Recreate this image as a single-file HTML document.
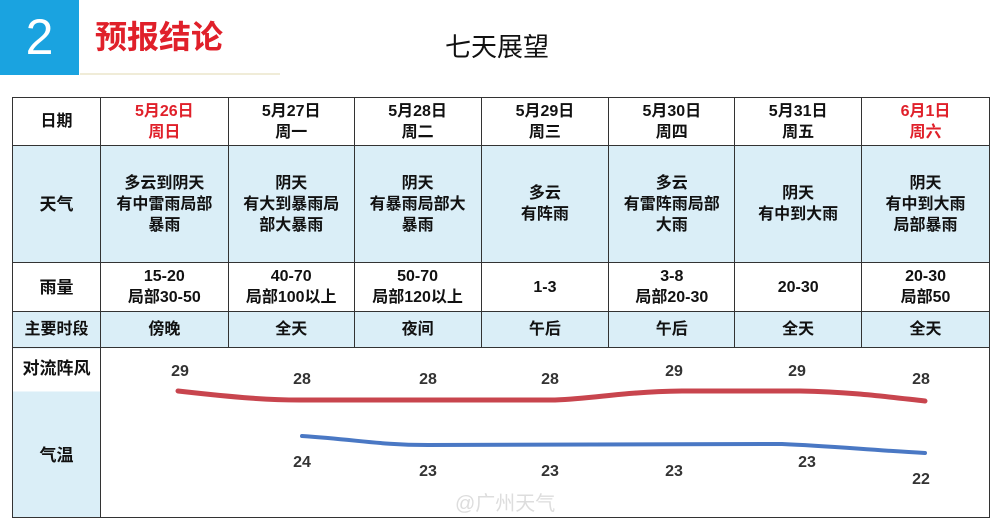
<!DOCTYPE html>
<html><head><meta charset="utf-8"><style>
body{margin:0;width:1000px;height:528px;background:#fff;position:relative;overflow:hidden;font-family:"Liberation Sans","Noto Sans CJK SC",sans-serif}
.a{position:absolute}
table{position:absolute;left:12px;top:97px;border-collapse:collapse;width:978px}
td{border:1.5px solid #333;text-align:center;font-weight:bold;font-size:16px;line-height:21px;padding:0;color:#111}
.b{background:#daeef7}
.r{color:#e0202a}
</style></head><body>
<div class="a" style="left:0;top:0;width:79px;height:75px;background:#1aa3e0;color:#fff;font-size:50px;line-height:75px;text-align:center">2</div>
<div class="a" style="left:80px;top:73px;width:200px;height:2px;background:#f0ecd8"></div>
<div class="a" style="left:95px;top:15px;color:#e0202a;font-size:32px;font-weight:bold;line-height:44px">预报结论</div>
<div class="a" style="left:445px;top:30px;font-size:26px;line-height:34px;color:#111">七天展望</div>
<table>
<colgroup><col style="width:88px"><col style="width:128px"><col style="width:126px"><col style="width:127px"><col style="width:128px"><col style="width:126px"><col style="width:127px"><col style="width:128px"></colgroup>
<tr style="height:48px"><td>日期</td><td class="r">5月26日<br>周日</td><td>5月27日<br>周一</td><td>5月28日<br>周二</td><td>5月29日<br>周三</td><td>5月30日<br>周四</td><td>5月31日<br>周五</td><td class="r">6月1日<br>周六</td></tr>
<tr style="height:117px" class="b"><td style="font-size:17px">天气</td><td>多云到阴天<br>有中雷雨局部<br>暴雨</td><td>阴天<br>有大到暴雨局<br>部大暴雨</td><td>阴天<br>有暴雨局部大<br>暴雨</td><td>多云<br>有阵雨</td><td>多云<br>有雷阵雨局部<br>大雨</td><td>阴天<br>有中到大雨</td><td>阴天<br>有中到大雨<br>局部暴雨</td></tr>
<tr style="height:49px;font-size:15px"><td style="font-size:17px">雨量</td><td>15-20<br>局部30-50</td><td>40-70<br>局部100以上</td><td>50-70<br>局部120以上</td><td>1-3</td><td>3-8<br>局部20-30</td><td>20-30</td><td>20-30<br>局部50</td></tr>
<tr style="height:36px;font-size:14px" class="b"><td>主要时段</td><td>傍晚</td><td>全天</td><td>夜间</td><td>午后</td><td>午后</td><td>全天</td><td>全天</td></tr>
<tr style="height:170px"><td style="vertical-align:top;font-size:17px;background:linear-gradient(#fff 0 43px,#daeef7 43px)"><div style="margin-top:10px">对流阵风</div><div style="margin-top:66px">气温</div></td><td colspan="7" style="border-left:1.5px solid #333"></td></tr>
</table>
<svg class="a" style="left:0;top:0" width="1000" height="528">
<path d="M178,391 C240,398 270,400 300,400 L555,400 C600,398 620,392 682,391 L800,391 C850,392 880,396 925,401" fill="none" stroke="#c8454e" stroke-width="5" stroke-linecap="round"/>
<path d="M302,436 C360,440 380,445 428,445 L782,444 C830,446 870,450 925,453" fill="none" stroke="#4a78c4" stroke-width="4" stroke-linecap="round"/>
<g font-family="Liberation Sans" font-size="16" font-weight="bold" fill="#333" text-anchor="middle">
<text x="180" y="376">29</text><text x="302" y="384">28</text><text x="428" y="384">28</text><text x="550" y="384">28</text><text x="674" y="376">29</text><text x="797" y="376">29</text><text x="921" y="384">28</text>
<text x="302" y="467">24</text><text x="428" y="476">23</text><text x="550" y="476">23</text><text x="674" y="476">23</text><text x="807" y="467">23</text><text x="921" y="484">22</text>
</g>
<text x="455" y="510" font-size="20" fill="#ddd" font-family="Liberation Sans,Noto Sans CJK SC,sans-serif">@广州天气</text>
</svg>
</body></html>
